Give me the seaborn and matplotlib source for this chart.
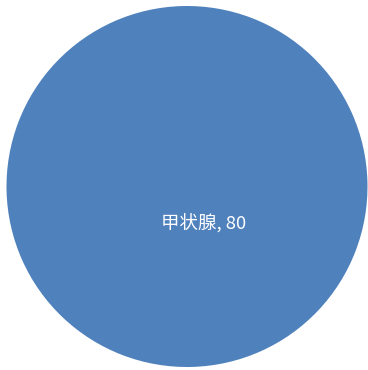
import matplotlib
matplotlib.use("Agg")
import matplotlib.pyplot as plt
import seaborn as sns

# Data
categories = ["甲状腺"]
values = [80]
colors = ["#4f81bd"]

sns.set_theme(style="white")
plt.rcParams["font.family"] = ["Noto Sans CJK SC", "DejaVu Sans"]

fig = plt.figure(figsize=(3.68, 3.70), dpi=100)
ax = fig.add_axes([6 / 368, 3 / 370, 362 / 368, 361 / 370])

labels = [f"{c}, {v}" for c, v in zip(categories, values)]

wedges, texts = ax.pie(
    values,
    labels=labels,
    colors=colors,
    startangle=114,
    labeldistance=0.23,
    wedgeprops={"linewidth": 0},
    textprops={"color": "white", "fontsize": 13.3},
)

for t in texts:
    t.set_ha("center")
    t.set_va("center")

ax.set_xlim(-1, 1)
ax.set_ylim(-1, 1)
ax.set_aspect("equal")
ax.axis("off")

fig.savefig("out.png", dpi=100)
